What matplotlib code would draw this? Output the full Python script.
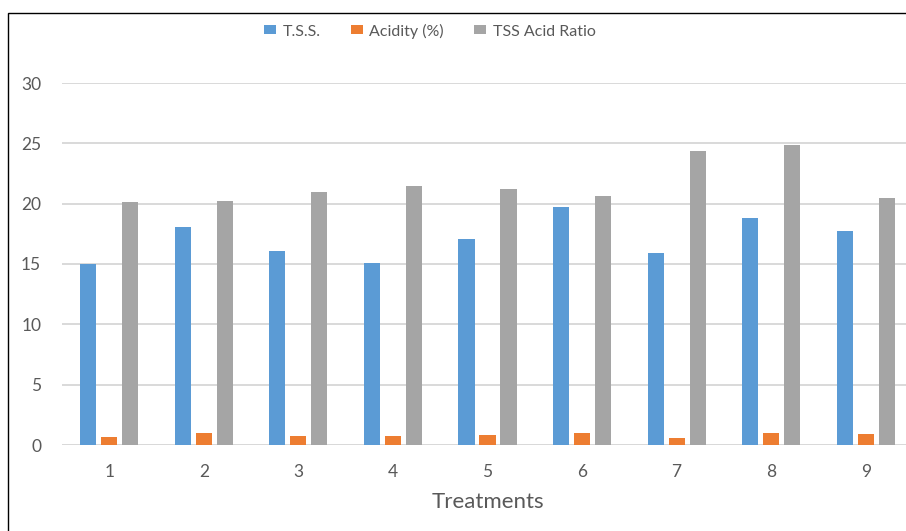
import numpy as np
from matplotlib import pyplot as plt
from matplotlib import patches

plt.rcParams['font.family'] = ['Lato', 'DejaVu Sans']

treatments = ['1', '2', '3', '4', '5', '6', '7', '8', '9']
tss = [15.0, 18.1, 16.1, 15.1, 17.1, 19.7, 15.9, 18.8, 17.7]
acidity = [0.64, 0.97, 0.75, 0.75, 0.83, 0.97, 0.6, 0.97, 0.89]
ratio = [20.1, 20.2, 21.0, 21.5, 21.2, 20.6, 24.4, 24.9, 20.5]

series = [('T.S.S.', tss, '#5B9BD5'),
          ('Acidity (%)', acidity, '#ED7D31'),
          ('TSS Acid Ratio', ratio, '#A5A5A5')]

W, H = 906, 531
fig = plt.figure(figsize=(W/100, H/100), dpi=100)
fig.set_facecolor('white')

# plot area in pixels: left 62, right ~913 (cropped), y0 at 445, y30 at 83
ax = fig.add_axes([62/W, (H-445)/H, (913-62)/W, (445-83)/H])

x = np.arange(len(treatments))
off = 0.222
bw = 0.17
for k, (name, vals, col) in enumerate(series):
    ax.bar(x + (k-1)*off, vals, width=bw, color=col, label=name, zorder=3)

ax.set_xlim(-0.5, len(treatments)-0.5)
ax.set_ylim(0, 30)
ax.set_yticks(range(0, 31, 5))
ax.set_xticks(x)
ax.set_xticklabels(treatments)
ax.grid(axis='y', color='#D9D9D9', lw=1.4, zorder=0)
for s in ax.spines.values():
    s.set_visible(False)
ax.axhline(0, color='#D9D9D9', lw=1.4, zorder=2)
ax.tick_params(length=0, labelsize=12.5, colors='#595959')
ax.tick_params(axis='y', pad=15)
ax.tick_params(axis='x', pad=14)
ax.set_xlabel('Treatments', fontsize=16, color='#595959', labelpad=8)

leg = fig.legend(loc='center', bbox_to_anchor=(430/W, (H-31)/H), ncol=3,
                 frameon=False, fontsize=11.5, handlelength=0.75, handleheight=0.5,
                 handletextpad=0.4, columnspacing=1.9)
for t in leg.get_texts():
    t.set_color('#595959')

# chart border (right and bottom edges are cropped off)
fig.add_artist(patches.Rectangle((8/W, -0.1), 1.2, (H-13)/H + 0.1,
                                 transform=fig.transFigure, fill=False,
                                 edgecolor='black', lw=1.0))

fig.savefig('out.png', dpi=100)
